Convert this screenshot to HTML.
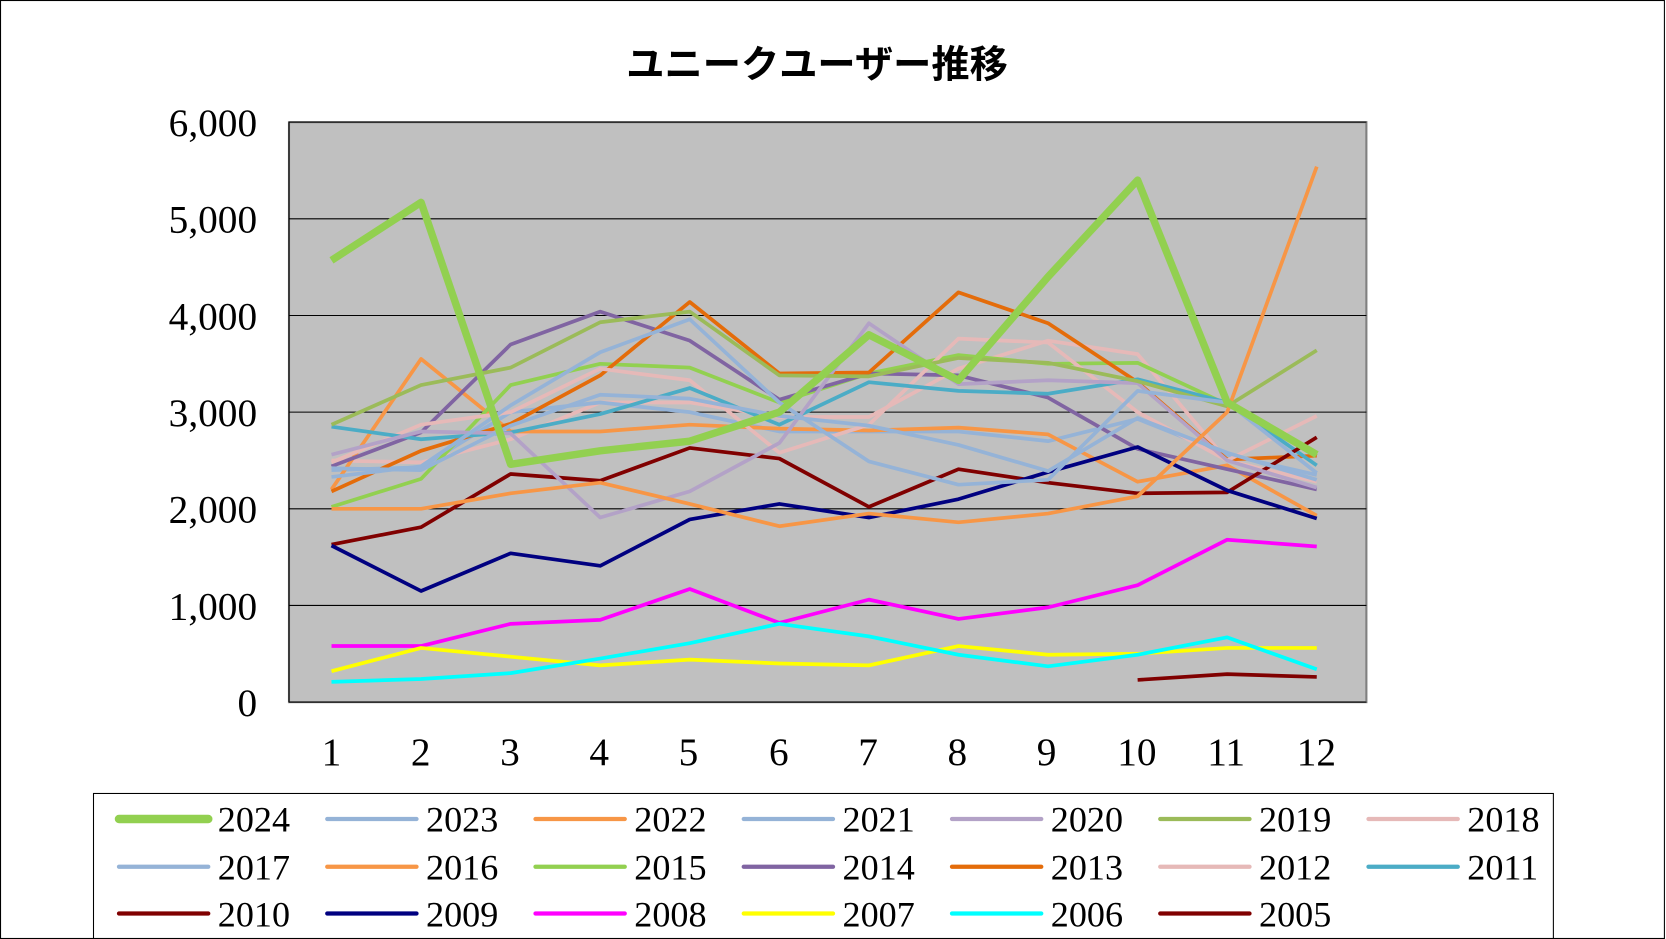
<!DOCTYPE html>
<html><head><meta charset="utf-8"><style>
html,body{margin:0;padding:0;background:#fff;}
svg{display:block;}
.t{font-family:"Liberation Serif",serif;fill:#000;}
</style></head><body>
<svg id="s" width="1666" height="939" viewBox="0 0 1568 884" preserveAspectRatio="none" xmlns="http://www.w3.org/2000/svg">
<rect x="0.5" y="0.5" width="1566" height="883" fill="#fff" stroke="#000" stroke-width="1"/>
<text x="769" y="73" text-anchor="middle" font-family="'Liberation Sans','Noto Sans CJK JP',sans-serif" font-size="36" font-weight="bold">ユニークユーザー推移</text>
<rect x="272" y="115" width="1014" height="546" fill="#c0c0c0" stroke="#808080" stroke-width="2"/>
<g stroke="#000" stroke-width="1">
<line x1="272" y1="570" x2="1286" y2="570"/><line x1="272" y1="479" x2="1286" y2="479"/>
<line x1="272" y1="388" x2="1286" y2="388"/><line x1="272" y1="297" x2="1286" y2="297"/>
<line x1="272" y1="206" x2="1286" y2="206"/><line x1="272" y1="115" x2="1286" y2="115"/>
<line x1="272" y1="661" x2="1286" y2="661"/><line x1="272" y1="115" x2="272" y2="661"/>
</g>
<g class="t" font-size="37" text-anchor="end">
<text x="242" y="674">0</text><text x="242" y="583">1,000</text><text x="242" y="492">2,000</text>
<text x="242" y="401">3,000</text><text x="242" y="310">4,000</text><text x="242" y="219">5,000</text><text x="242" y="128">6,000</text>
</g>
<g class="t" font-size="37" text-anchor="middle">
<text x="312" y="720">1</text><text x="396" y="720">2</text><text x="480" y="720">3</text><text x="564" y="720">4</text>
<text x="648" y="720">5</text><text x="733" y="720">6</text><text x="817" y="720">7</text><text x="901" y="720">8</text>
<text x="985" y="720">9</text><text x="1070" y="720">10</text><text x="1154" y="720">11</text><text x="1239" y="720">12</text>
</g>
<g id="lines" fill="none" stroke-linejoin="round"></g>
<rect x="88" y="747" width="1374" height="137" fill="none" stroke="#000" stroke-width="1"/>
<g id="leg"></g>
<g class="t" font-size="34">
<text x="205" y="783">2024</text><text x="401" y="783">2023</text><text x="597" y="783">2022</text><text x="793" y="783">2021</text><text x="989" y="783">2020</text><text x="1185" y="783">2019</text><text x="1381" y="783">2018</text>
<text x="205" y="828">2017</text><text x="401" y="828">2016</text><text x="597" y="828">2015</text><text x="793" y="828">2014</text><text x="989" y="828">2013</text><text x="1185" y="828">2012</text><text x="1381" y="828">2011</text>
<text x="205" y="872">2010</text><text x="401" y="872">2009</text><text x="597" y="872">2008</text><text x="793" y="872">2007</text><text x="989" y="872">2006</text><text x="1185" y="872">2005</text>
</g>
</svg>
<script>
var S=[
["#e6b9b8",3.5,[2500,2480,2720,3100,3100,2950,2950,3450,3740,3600,2500,2280]],
["#95b3d7",3.5,[2400,2430,3000,3100,3000,2800,2800,2800,2700,2930,2560,2350]],
["#f79646",3.5,[2200,3550,2800,2800,2870,2830,2810,2840,2770,2280,2450,1930]],
["#92d050",3.5,[2020,2310,3280,3500,3460,3100,3400,3590,3500,3510,3080,2550]],
["#8064a2",3.5,[2440,2790,3700,4040,3740,3130,3400,3380,3150,2620,2410,2200]],
["#e46c0a",3.5,[2180,2600,2880,3380,4140,3400,3410,4240,3920,3310,2510,2550]],
["#e6b9b8",3.5,[2480,2870,3000,3450,3330,2580,2870,3760,3720,3000,2500,2960]],
["#4bacc6",3.5,[2850,2720,2790,2980,3250,2870,3310,3220,3190,3340,3100,2450]],
["#800000",3.5,[1630,1810,2360,2290,2630,2520,2020,2410,2270,2160,2170,2740]],
["#000080",3.5,[1620,1150,1540,1410,1890,2050,1910,2100,2380,2640,2190,1900]],
["#ff00ff",3.5,[580,580,810,850,1170,820,1060,860,980,1210,1680,1610]],
["#ffff00",3.5,[320,560,470,380,440,400,380,580,490,500,560,560]],
["#00ffff",3.5,[210,240,300,450,610,810,680,490,370,490,670,340]],
["#800000",3.5,[null,null,null,null,null,null,null,null,null,230,290,260]],
["#b3a2c7",3.5,[2560,2800,2780,1910,2180,2680,3920,3290,3330,3300,2500,2220]],
["#9bbb59",3.5,[2870,3280,3460,3930,4040,3380,3370,3560,3510,3320,3060,3640]],
["#95b3d7",3.5,[2420,2400,2860,3180,3140,2960,2860,2660,2390,2940,2580,2300]],
["#f79646",3.5,[2000,2000,2160,2270,2050,1820,1950,1860,1950,2130,3000,5540]],
["#95b3d7",3.5,[2330,2440,3070,3620,3960,3100,2490,2250,2300,3220,3100,2370]],
["#92d050",7,[4570,5170,2460,2600,2700,3000,3800,3330,4400,5400,3100,2560]]
];
var ns="http://www.w3.org/2000/svg",g=document.getElementById("lines");
S.forEach(function(s){var p=[];s[2].forEach(function(v,i){if(v!==null)p.push((312+i*84.3).toFixed(1)+","+(661-v/6000*546).toFixed(1));});
var e=document.createElementNS(ns,"polyline");e.setAttribute("points",p.join(" "));e.setAttribute("stroke",s[0]);e.setAttribute("stroke-width",s[1]);g.appendChild(e);});
var L=[["#92d050",8],["#95b3d7",4],["#f79646",4],["#95b3d7",4],["#b3a2c7",4],["#9bbb59",4],["#e6b9b8",4],
["#95b3d7",4],["#f79646",4],["#92d050",4],["#8064a2",4],["#e46c0a",4],["#e6b9b8",4],["#4bacc6",4],
["#800000",4],["#000080",4],["#ff00ff",4],["#ffff00",4],["#00ffff",4],["#800000",4]];
var lg=document.getElementById("leg"),ys=[771,816,860];
L.forEach(function(l,i){var r=Math.floor(i/7),c=i%7,e=document.createElementNS(ns,"line");var x=112+c*196;
e.setAttribute("x1",x);e.setAttribute("x2",x+84);e.setAttribute("y1",ys[r]);e.setAttribute("y2",ys[r]);
e.setAttribute("stroke",l[0]);e.setAttribute("stroke-width",l[1]);e.setAttribute("stroke-linecap","round");lg.appendChild(e);});
</script>
</body></html>
